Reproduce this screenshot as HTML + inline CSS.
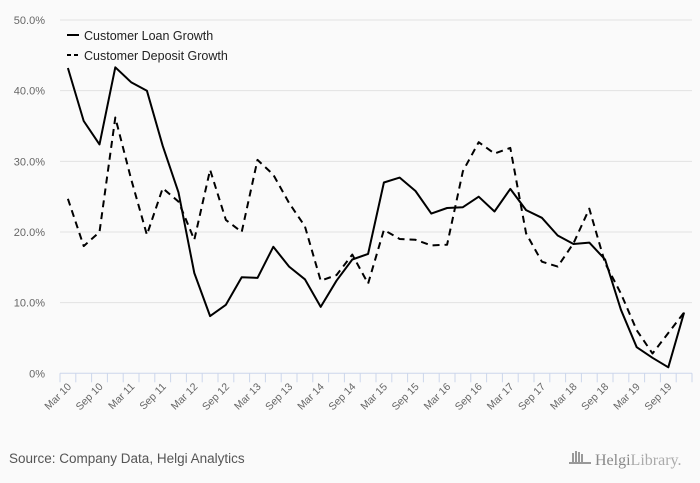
<!DOCTYPE html>
<html><head><meta charset="utf-8"><style>
body{margin:0;background:#fafafa;font-family:"Liberation Sans",sans-serif;}
svg{display:block}
</style></head><body>
<svg id="chart" width="700" height="483" xmlns="http://www.w3.org/2000/svg">
<rect width="700" height="483" fill="#fafafa"/>
<g id="grid"></g><g id="xaxis"></g><g id="series"></g>
<g>
 <g><line x1="67" y1="35" x2="79" y2="35" stroke="#000" stroke-width="2"/><text x="84" y="40" font-size="12.5" fill="#222">Customer Loan Growth</text></g>
 <g><line x1="67" y1="55" x2="79" y2="55" stroke="#000" stroke-width="2" stroke-dasharray="4,3"/><text x="84" y="60" font-size="12.5" fill="#222">Customer Deposit Growth</text></g>
</g>
<text x="9" y="463" font-size="13.5" fill="#555">Source: Company Data, Helgi Analytics</text>
<g>
 <g fill="#999"><rect x="572" y="453" width="2" height="10"/><rect x="575" y="451" width="2" height="12"/><rect x="578" y="452" width="2" height="11"/><rect x="581" y="454" width="2" height="9"/><rect x="569" y="462" width="22" height="2"/></g>
 <text x="595" y="465" font-size="16" fill="#888" font-family="Liberation Serif,serif">Helgi<tspan fill="#aaa">Library.</tspan></text>
</g>
</svg>
<script>
const categories=["Mar 10","Jun 10","Sep 10","Dec 10","Mar 11","Jun 11","Sep 11","Dec 11","Mar 12","Jun 12","Sep 12","Dec 12","Mar 13","Jun 13","Sep 13","Dec 13","Mar 14","Jun 14","Sep 14","Dec 14","Mar 15","Jun 15","Sep 15","Dec 15","Mar 16","Jun 16","Sep 16","Dec 16","Mar 17","Jun 17","Sep 17","Dec 17","Mar 18","Jun 18","Sep 18","Dec 18","Mar 19","Jun 19","Sep 19","Dec 19"];
const loanGrowth=[43.2,35.7,32.4,43.3,41.2,40.0,32.2,25.6,14.2,8.1,9.7,13.6,13.5,17.9,15.1,13.3,9.4,13.1,16.1,16.9,27.0,27.7,25.8,22.6,23.4,23.5,25.0,22.9,26.1,23.1,22.0,19.5,18.3,18.5,16.1,9.0,3.7,2.2,0.85,8.6];
const depositGrowth=[24.7,18.0,20.0,36.2,27.5,19.6,26.2,24.3,18.9,28.8,21.7,20.0,30.2,28.1,24.1,20.8,13.1,13.9,16.8,12.7,20.3,19.0,18.9,18.1,18.2,28.6,32.7,31.1,31.9,19.8,15.8,15.1,18.4,23.3,15.6,11.3,6.1,2.8,5.7,8.6];
const yTicks=[0,10,20,30,40,50];
const yTickLabels=["0%","10.0%","20.0%","30.0%","40.0%","50.0%"];
const NS="http://www.w3.org/2000/svg";
const x0=60,x1=692,y0=373.3,yTop=20;
const bw=(x1-x0)/categories.length;
const xs=i=>x0+bw*(i+0.5);
const ys=v=>y0-(y0-yTop)*v/50;
function mk(t,a,p){const e=document.createElementNS(NS,t);for(const k in a)e.setAttribute(k,a[k]);p.appendChild(e);return e;}
const grid=document.getElementById('grid');
yTicks.forEach((v,i)=>{
 if(v>0){const l=mk('line',{x1:x0,x2:x1,y1:ys(v),y2:ys(v),stroke:'#e2e2e2','stroke-width':1},grid);
 
 }
 const t=mk('text',{x:45,y:ys(v)+4,'text-anchor':'end','font-size':'11',fill:'#666'},grid);
 t.textContent=yTickLabels[i];
 
 
});
const xa=document.getElementById('xaxis');
const ax=mk('line',{x1:x0,x2:x1,y1:y0,y2:y0,stroke:'#ccd6eb','stroke-width':1},xa);


for(let i=0;i<=categories.length;i++){
 const tk=mk('line',{x1:x0+bw*i,x2:x0+bw*i,y1:y0,y2:y0+9,stroke:'#ccd6eb','stroke-width':1},xa);
 
 
}
categories.forEach((c,i)=>{
 if(i%2)return;
 const x=xs(i)+4,y=y0+14;
 const t=mk('text',{x:x,y:y,'text-anchor':'end','font-size':'10.5',fill:'#666',transform:`rotate(-45 ${x} ${y})`},xa);
 t.textContent=c;
 
 
});
const sg=document.getElementById('series');
function line(vals,dash,name){
 const p=mk('polyline',{points:vals.map((v,i)=>xs(i).toFixed(1)+','+ys(v).toFixed(1)).join(' '),fill:'none',stroke:'#000','stroke-width':2,'stroke-linejoin':'round'},sg);
 if(dash)p.setAttribute('stroke-dasharray','7,5');
 
 
}
line(depositGrowth,true,'deposit-growth-line');
line(loanGrowth,false,'loan-growth-line');
</script>
</body></html>
